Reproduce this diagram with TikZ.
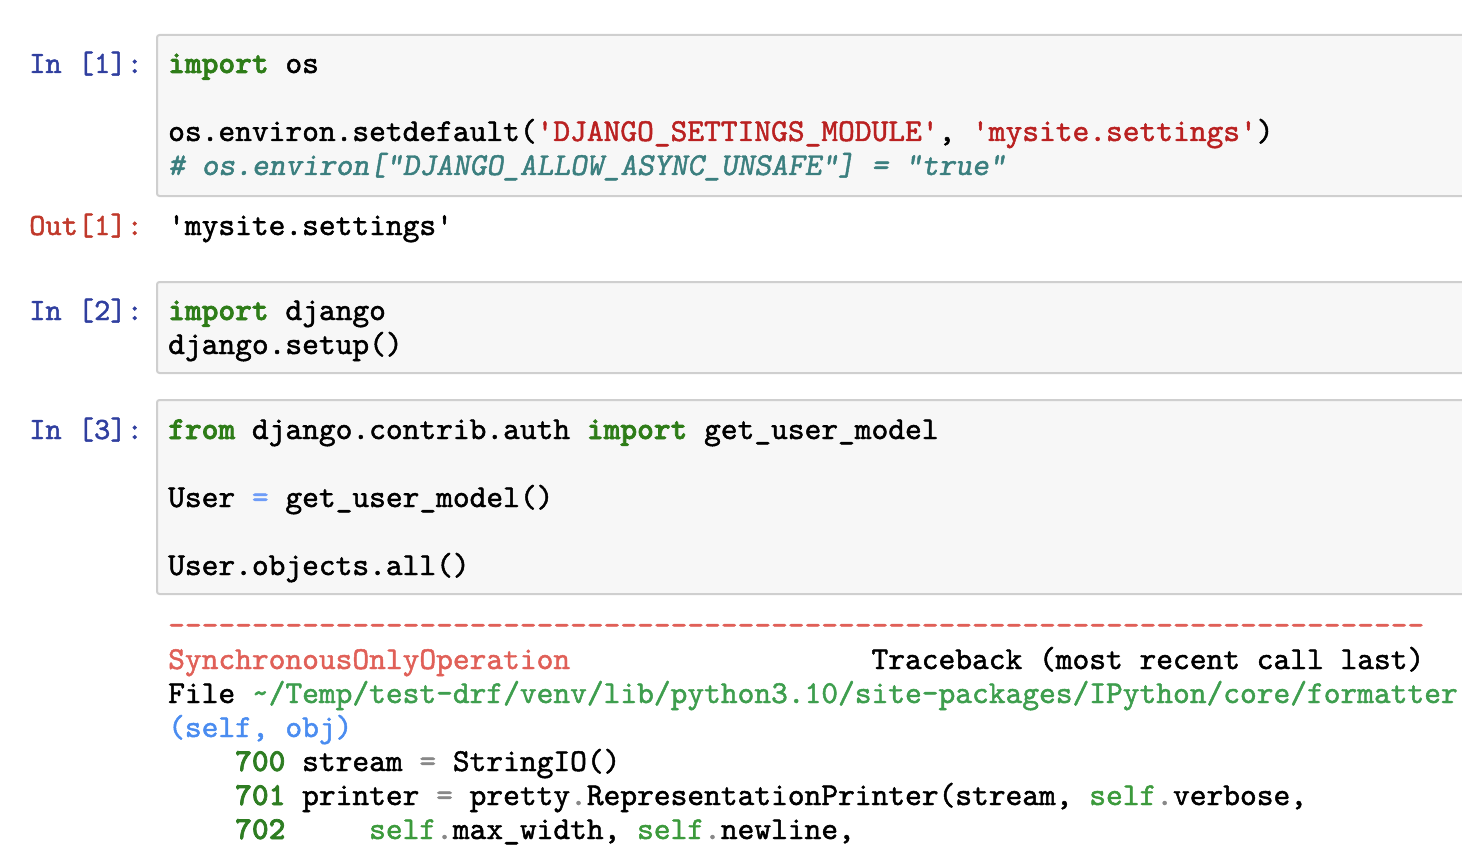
\documentclass[tikz,border=0pt]{standalone}
\usepackage{fontspec}
\setmonofont{lmmono10-regular.otf}[
  UprightFeatures={FakeBold=1.5},
  BoldFont=lmmonolt10-bold.otf,
  BoldFeatures={FakeBold=2.2},
  ItalicFont=lmmonoslant10-regular.otf,
  ItalicFeatures={FakeBold=1.4}]
\definecolor{cellfill}{HTML}{F7F7F7}
\definecolor{cellline}{HTML}{CFCFCF}
\definecolor{inprompt}{HTML}{303F9F}
\definecolor{outprompt}{HTML}{C0392B}
\definecolor{kwgreen}{HTML}{2E7D18}
\definecolor{strred}{HTML}{BA2121}
\definecolor{cmtteal}{HTML}{3B7F7F}
\definecolor{opblue}{HTML}{6E9CF7}
\definecolor{tbred}{HTML}{E06058}
\definecolor{tbgreen}{HTML}{3E9E4E}
\definecolor{tbblue}{HTML}{4A8CF0}
\definecolor{lnogreen}{HTML}{2E7D22}
\definecolor{selfgreen}{HTML}{3C9A3C}
\definecolor{opgray}{HTML}{888888}
\newcommand\kw[1]{{\color{kwgreen}\bfseries #1}}
\newcommand\pystr[1]{{\color{strred}#1}}
\newcommand\cmt[1]{{\color{cmtteal}\itshape #1}}
\newcommand\sq{\textquotesingle}
\newcommand\spc[1]{\hspace*{#1\fontcharwd\font`\x}}
\newcommand\lno[1]{{\color{lnogreen}\bfseries #1}}
\newcommand\slf{{\color{selfgreen}self}}
\newcommand\gy[1]{{\color{opgray}#1}}
\begin{document}
\begin{tikzpicture}[x=1pt,y=-1pt,
  cellbox/.style={fill=cellfill,draw=cellline,line width=2pt,rounded corners=2.5pt},
  code/.style={anchor=base west,inner sep=0pt,font=\ttfamily\fontsize{31.9}{34}\selectfont,text=black},
  prompt/.style={anchor=base east,inner sep=0pt,font=\ttfamily\fontsize{30.9}{34}\selectfont}]
\useasboundingbox (0,0) rectangle (1462,848);
\clip (0,0) rectangle (1462,848);
% cell boxes
\path[cellbox] (157,35) rectangle (1490,196);
\path[cellbox] (157,282) rectangle (1490,373);
\path[cellbox] (157,400) rectangle (1490,594);
% prompts
\node[prompt,text=inprompt] (p1) at (143,73) {In [1]:};
\node[prompt,text=outprompt] (o1) at (143,235) {Out[1]:};
\node[prompt,text=inprompt] (p2) at (143,320) {In [2]:};
\node[prompt,text=inprompt] (p3) at (143,439) {In [3]:};
% cell 1
\node[code] (c1a) at (168,73) {\kw{import} os};
\node[code] (c1b) at (168,141) {os.environ.setdefault(\pystr{\sq DJANGO\_SETTINGS\_MODULE\sq}, \pystr{\sq mysite.settings\sq})};
\node[code] (c1c) at (168,175) {\cmt{\# os.environ["DJANGO\_ALLOW\_ASYNC\_UNSAFE"] = "true"}};
% output 1
\node[code] (out1) at (168,235) {\sq mysite.settings\sq};
% cell 2
\node[code] (c2a) at (168,320) {\kw{import} django};
\node[code] (c2b) at (168,354) {django.setup()};
% cell 3
\node[code] (c3a) at (168,439) {\kw{from} django.contrib.auth \kw{import} get\_user\_model};
\node[code] (c3b) at (168,507) {User {\color{opblue}=} get\_user\_model()};
\node[code] (c3c) at (168,575) {User.objects.all()};
% traceback
\node[code,text=tbred] (t0) at (168,635) {---------------------------------------------------------------------------};
\node[code] (t1) at (168,669) {{\color{tbred}SynchronousOnlyOperation}\spc{18}Traceback (most recent call last)};
\node[code] (t2) at (168,703) {File {\color{tbgreen}\textasciitilde/Temp/test-drf/venv/lib/python3.10/site-packages/IPython/core/formatter}};
\node[code,text=tbblue] (t3) at (168,737) {(self, obj)};
\node[code] (t4) at (168,771) {\spc{4}\lno{700} stream \gy{=} StringIO()};
\node[code] (t5) at (168,805) {\spc{4}\lno{701} printer \gy{=} pretty\gy{.}RepresentationPrinter(stream, \slf\gy{.}verbose,};
\node[code] (t6) at (168,839) {\spc{4}\lno{702}\spc{5}\slf\gy{.}max\_width, \slf\gy{.}newline,};
\end{tikzpicture}
\end{document}
